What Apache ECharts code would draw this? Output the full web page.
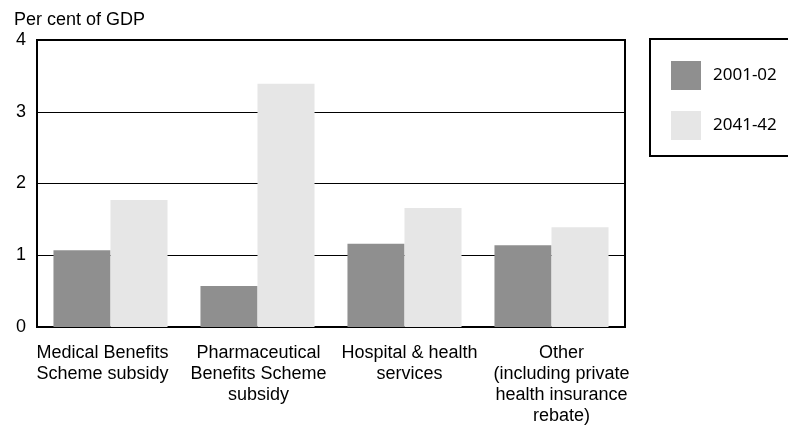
<!DOCTYPE html>
<html><head><meta charset="utf-8">
<script src="https://cdn.jsdelivr.net/npm/echarts@6/dist/echarts.min.js"></script>
<style>html,body{margin:0;padding:0;background:#fff}#c{width:788px;height:431px}</style>
</head><body><div id="c"></div>
<script>
const categories = ["Medical Benefits\nScheme subsidy", "Pharmaceutical\nBenefits Scheme\nsubsidy", "Hospital & health\nservices", "Other\n(including private\nhealth insurance\nrebate)"];
const series2001 = [1.07, 0.57, 1.16, 1.14];
const series2041 = [1.77, 3.39, 1.66, 1.39];
const seriesNames = ["2001-02", "2041-42"];
const yTicks = [0, 1, 2, 3, 4];
const font = "'Liberation Sans', Arial, sans-serif";
// horizontal nudges of the category labels (layout only)
const labelShift = [-8, 1, 5, 10];
const rich = {};
labelShift.forEach((d, i) => {
  rich['s' + i] = {fontFamily: font, fontSize: 18, color: '#000', lineHeight: 21,
    padding: d >= 0 ? [0, 0, 0, 2 * d] : [0, -2 * d, 0, 0]};
});
const chart = echarts.init(document.getElementById('c'), null, {renderer: 'canvas'});
chart.setOption({
  animation: false,
  backgroundColor: '#fff',
  grid: {left: 37, right: 163, top: 40, bottom: 104, show: true, borderColor: '#000', borderWidth: 2, backgroundColor: 'transparent'},
  title: {text: 'Per cent of GDP', left: 9, top: 6, textStyle: {fontFamily: font, fontSize: 18, fontWeight: 'normal', color: '#000'}},
  legend: {
    orient: 'vertical', left: 666, top: 56, itemWidth: 30, itemHeight: 29, itemGap: 21,
    icon: 'rect', data: seriesNames,
    textStyle: {fontFamily: "'Noto Sans', sans-serif", fontSize: 17, color: '#000', padding: [0,0,0,7]}
  },
  graphic: [{type: 'rect', shape: {x: 650, y: 39, width: 160, height: 117}, style: {fill: 'none', stroke: '#000', lineWidth: 2}}],
  xAxis: {
    type: 'category', data: categories,
    axisLine: {show: true, lineStyle: {color: '#000', width: 2}},
    axisTick: {show: false},
    axisLabel: {interval: 0, margin: 16, fontFamily: font, fontSize: 18, color: '#000', lineHeight: 21, rich: rich,
      formatter: (v, i) => v.split('\n').map(l => '{s' + i + '|' + l + '}').join('\n')}
  },
  yAxis: {
    type: 'value', min: yTicks[0], max: yTicks[yTicks.length-1], interval: 1,
    axisLine: {show: true, lineStyle: {color: '#000', width: 2}},
    axisTick: {show: false},
    splitLine: {show: true, lineStyle: {color: '#000', width: 1}},
    axisLabel: {margin: 11, fontFamily: font, fontSize: 18, color: '#000'}
  },
  series: [
    {name: seriesNames[0], type: 'bar', data: series2001, barGap: '0%', barCategoryGap: '22.4%', itemStyle: {color: '#8f8f8f'}},
    {name: seriesNames[1], type: 'bar', data: series2041, itemStyle: {color: '#e6e6e6'}}
  ]
});
</script></body></html>
